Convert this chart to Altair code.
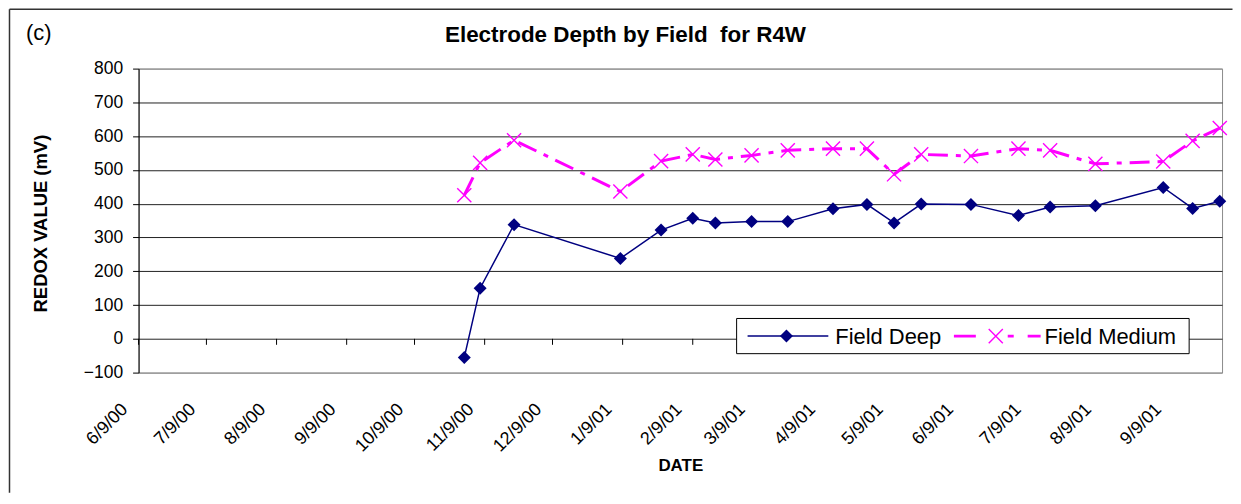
import altair as alt
import pandas as pd

# ---------------- data ----------------
SERIES = ["Field Deep", "Field Medium"]
DATES = [
    "2000-10-31", "2000-11-07", "2000-11-22", "2001-01-08", "2001-01-26",
    "2001-02-09", "2001-02-19", "2001-03-07", "2001-03-23", "2001-04-12",
    "2001-04-27", "2001-05-09", "2001-05-21", "2001-06-12", "2001-07-03",
    "2001-07-17", "2001-08-06", "2001-09-05", "2001-09-18", "2001-09-30",
]
DEEP = [-55, 150, 338, 238, 322, 357, 343, 347, 347, 385,
        398, 343, 399, 398, 365, 390, 394, 448, 386, 407]
MEDIUM = [425, 521, 588, 436, 526, 546, 531, 543, 558, 563,
          563, 487, 546, 541, 563, 558, 518, 525, 586, 624]
TICK_DATES = [
    "2000-06-09", "2000-07-09", "2000-08-09", "2000-09-09", "2000-10-09",
    "2000-11-09", "2000-12-09", "2001-01-09", "2001-02-09", "2001-03-09",
    "2001-04-09", "2001-05-09", "2001-06-09", "2001-07-09", "2001-08-09",
    "2001-09-09",
]
X_DOMAIN = ["2000-06-09", "2001-10-01"]
Y_TICKS = [-100, 0, 100, 200, 300, 400, 500, 600, 700, 800]
TITLE = "Electrode Depth by Field\u00a0 for R4W"
PANEL = "(c)"
X_TITLE = "DATE"
Y_TITLE = "REDOX VALUE (mV)"

# ---------------- layout / style ----------------
W, H = 1087, 305
PAD = {"left": 131, "top": 60, "right": 11, "bottom": 121}
FONT = "Liberation Sans"
NAVY = "#000080"
MAGENTA = "#FF00FF"
XPATH = "M-1,-1L1,1M-1,1L1,-1"
Y0PX = H * (Y_TICKS[-1] - 0) / (Y_TICKS[-1] - Y_TICKS[0])
RIGHT_EDGE = W + PAD["right"] - 0.5
BOTTOM_EDGE = H + PAD["bottom"] - 0.5
FRAME_COLOR = "#333333"


def dt(s):
    y, m, d = (int(p) for p in s.split("-"))
    return alt.DateTime(year=y, month=m, date=d)


n = len(DATES)
df = pd.DataFrame({
    "date": [d + "T00:00:00" for d in DATES] * 2,
    "value": DEEP + MEDIUM,
    "series": [SERIES[0]] * n + [SERIES[1]] * n,
})

xscale = alt.Scale(domain=[dt(X_DOMAIN[0]), dt(X_DOMAIN[1])], nice=False)
yscale = alt.Scale(domain=[Y_TICKS[0], Y_TICKS[-1]], nice=False, zero=False)

xaxis = alt.Axis(
    title=X_TITLE, values=[dt(t) for t in TICK_DATES], format="%-m/%-d/%y",
    labelAngle=-45, labelAlign="right", labelBaseline="middle",
    labelPadding=34, labelOffset=-14, labelFlush=False, labelOverlap=False,
    labelFontSize=18, labelColor="#000", labelFont=FONT,
    ticks=False, tickSize=0, domain=False, grid=False,
    titleFontSize=17, titleFontWeight="bold", titleColor="#000", titleFont=FONT,
    titleY=93, titleBaseline="middle",
)
yaxis = alt.Axis(
    title=Y_TITLE, values=Y_TICKS, format="d",
    grid=True, gridWidth=1,
    gridColor={"condition": {"test": "datum.value === 800 || datum.value === -100",
                             "value": "#8c8c8c"}, "value": "#222222"},
    domain=True, domainColor="#000", domainWidth=1,
    ticks=True, tickColor="#000", tickSize=6, tickWidth=1,
    labelFontSize=17.5, labelColor="#000", labelFont=FONT, labelPadding=10,
    titleFontSize=18.5, titleFontWeight="bold", titleColor="#000", titleFont=FONT,
    titleX=-98, titleY=155, titleBaseline="middle", titleAlign="center",
)

X = alt.X("date:T", scale=xscale, axis=xaxis)
Y = alt.Y("value:Q", scale=yscale, axis=yaxis)

base = alt.Chart(df).encode(x=X, y=Y)
deep = base.transform_filter(alt.datum.series == SERIES[0])
med = base.transform_filter(alt.datum.series == SERIES[1])

deep_line = deep.mark_line(color=NAVY, strokeWidth=1.5)
deep_pts = deep.mark_point(shape="diamond", filled=True, size=170, color=NAVY, opacity=1)
med_line = med.mark_line(color=MAGENTA, strokeWidth=3, strokeDash=[20, 8, 5, 8])
med_pts = med.mark_point(shape=XPATH, filled=False, size=200, color=MAGENTA,
                         strokeWidth=1.4, opacity=1)

ticks0 = alt.Chart(pd.DataFrame({"date": [t + "T00:00:00" for t in TICK_DATES]})).mark_rule(
    color="#000", strokeWidth=1
).encode(x=X, y=alt.value(Y0PX), y2=alt.value(Y0PX + 6))

one = alt.Data(values=[{"k": 1}])

frame_left = alt.Chart(one).mark_rule(color=FRAME_COLOR, strokeWidth=1.5).encode(
    x=alt.value(-129.5), y=alt.value(-59.5), y2=alt.value(BOTTOM_EDGE))
frame_top = alt.Chart(one).mark_rule(color=FRAME_COLOR, strokeWidth=1.5).encode(
    x=alt.value(-129.5), x2=alt.value(RIGHT_EDGE), y=alt.value(-59.5))

title_txt = alt.Chart(one).mark_text(
    text=TITLE, font=FONT, fontSize=22.5, fontWeight="bold", align="center", baseline="middle", color="#000"
).encode(x=alt.value(488.5), y=alt.value(-33.3))
panel_txt = alt.Chart(one).mark_text(
    text=PANEL, font=FONT, fontSize=22, align="left", baseline="middle", color="#000"
).encode(x=alt.value(-113), y=alt.value(-35.8))

LY = 268.4
leg_box = alt.Chart(one).mark_rect(fill="white", stroke="#000", strokeWidth=1).encode(
    x=alt.value(600), x2=alt.value(1054), y=alt.value(250.7), y2=alt.value(286))
leg_deep_line = alt.Chart(one).mark_rule(color=NAVY, strokeWidth=1.5).encode(
    x=alt.value(611), x2=alt.value(692), y=alt.value(LY))
leg_deep_pt = alt.Chart(one).mark_point(shape="diamond", filled=True, size=170, color=NAVY, opacity=1).encode(
    x=alt.value(650), y=alt.value(LY))
leg_deep_txt = alt.Chart(one).mark_text(
    text=SERIES[0], font=FONT, fontSize=22, align="left", baseline="middle", color="#000"
).encode(x=alt.value(699), y=alt.value(LY + 1))
leg_med_line = alt.Chart(one).mark_rule(color=MAGENTA, strokeWidth=3, strokeDash=[22, 32, 6, 14, 13]).encode(
    x=alt.value(818), x2=alt.value(905), y=alt.value(LY))
leg_med_pt = alt.Chart(one).mark_point(shape=XPATH, filled=False, size=200, color=MAGENTA,
                                       strokeWidth=1.4, opacity=1).encode(
    x=alt.value(860), y=alt.value(LY))
leg_med_txt = alt.Chart(one).mark_text(
    text=SERIES[1], font=FONT, fontSize=22, align="left", baseline="middle", color="#000"
).encode(x=alt.value(909), y=alt.value(LY + 1))

chart = alt.layer(
    frame_left, frame_top, ticks0, deep_line, med_line, deep_pts, med_pts,
    leg_box, leg_deep_line, leg_deep_pt, leg_deep_txt, leg_med_line, leg_med_pt, leg_med_txt,
    title_txt, panel_txt,
).properties(
    width=W, height=H,
    autosize=alt.AutoSizeParams(type="none"),
    padding=PAD,
    background="white",
).configure(font=FONT).configure_view(stroke="#8c8c8c", strokeWidth=1)

chart.save("out.html", embed_options={"renderer": "svg", "actions": False})
